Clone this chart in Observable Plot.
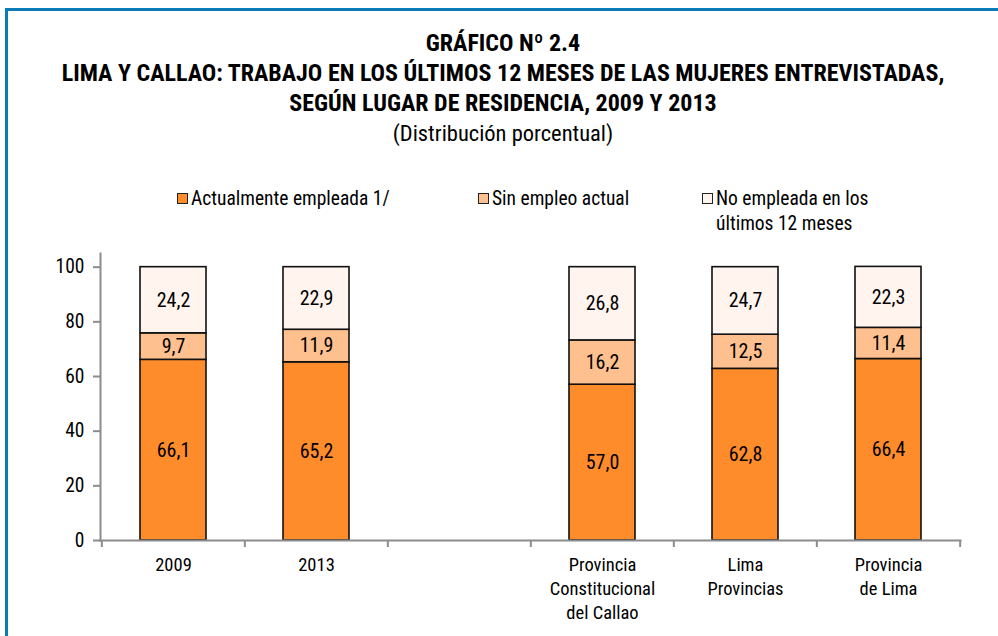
<!DOCTYPE html>
<html>
<head>
<meta charset="utf-8">
<script src="https://cdn.jsdelivr.net/npm/d3@7"></script>
<script src="https://cdn.jsdelivr.net/npm/@observablehq/plot@0.6"></script>
<style>
  html, body { margin: 0; padding: 0; background: #fff; }
  #wrap { position: relative; width: 998px; height: 636px; overflow: hidden;
          font-family: "Liberation Sans Narrow", "Arial Narrow", "Roboto Condensed", sans-serif; color: #000; }
  #frame { position: absolute; left: 5px; top: 8px; width: 1000px; height: 640px;
           border-top: 3px solid #0B7BB8; border-left: 3px solid #0B7BB8; }
  #title { position: absolute; left: 8px; width: 990px; top: 28px; text-align: center; }
  #title .b { font-weight: bold; font-size: 24px; line-height: 30px; }
  #title .s { font-size: 22.5px; line-height: 30px; }
  .leg { position: absolute; top: 186px; font-size: 19.5px; line-height: 25px; display: flex; align-items: flex-start; }
  .leg .sw { width: 9px; height: 9px; border: 1.5px solid #222; margin-top: 7px; margin-right: 3px; flex: none; }
  #chart { position: absolute; left: 0; top: 240px; }
</style>
</head>
<body>
<div id="wrap">
  <div id="frame"></div>
  <div id="title">
    <div class="b">GRÁFICO Nº 2.4</div>
    <div class="b">LIMA Y CALLAO: TRABAJO EN LOS ÚLTIMOS 12 MESES DE LAS MUJERES ENTREVISTADAS,</div>
    <div class="b">SEGÚN LUGAR DE RESIDENCIA, 2009 Y 2013</div>
    <div class="s">(Distribución porcentual)</div>
  </div>
  <div id="legend"></div>
  <div id="chart"></div>
</div>
<script>
// ---- data ----
const categories = ["2009", "2013", " ", "Provincia Constitucional del Callao", "Lima Provincias", "Provincia de Lima"];
const categoryLabels = ["2009", "2013", "", "Provincia\nConstitucional\ndel Callao", "Lima\nProvincias", "Provincia\nde Lima"];
const barCategories = ["2009", "2013", "Provincia Constitucional del Callao", "Lima Provincias", "Provincia de Lima"];
const series = ["Actualmente empleada 1/", "Sin empleo actual", "No empleada en los últimos 12 meses"];
const seriesLegend = ["Actualmente empleada 1/", "Sin empleo actual", "No empleada en los<br>últimos 12 meses"];
const empleada = [66.1, 65.2, 57.0, 62.8, 66.4];
const sinEmpleo = [9.7, 11.9, 16.2, 12.5, 11.4];
const noEmpleada = [24.2, 22.9, 26.8, 24.7, 22.3];
const colors = ["#FF8C2B", "#FFC08F", "#FFF4EE"];
const yTicks = [0, 20, 40, 60, 80, 100];

// ---- table ----
const values = [empleada, sinEmpleo, noEmpleada];
const data = [];
series.forEach((s, si) => barCategories.forEach((c, ci) => data.push({cat: c, series: s, value: values[si][ci]})));
const fmt = v => v.toFixed(1).replace(".", ",");
const labelOf = c => categoryLabels[categories.indexOf(c)];

// ---- legend ----
const legLeft = [177, 478, 702];
document.getElementById("legend").innerHTML = series.map((s, i) =>
  `<div class="leg" style="left:${legLeft[i]}px"><div class="sw" style="background:${colors[i]}"></div><div>${seriesLegend[i]}</div></div>`).join("");

// ---- chart ----
const W = 998, H = 396, mL = 100, mR = 38, mT = 13, mB = 96;
const step = (W - mL - mR) / categories.length;
const font = `"Liberation Sans Narrow", "Arial Narrow", "Roboto Condensed", sans-serif`;
const axisColor = "#8c8c8c";

const chart = Plot.plot({
  width: W, height: H,
  marginLeft: mL, marginRight: mR, marginTop: mT, marginBottom: mB,
  style: {fontFamily: font, fontSize: "18px", color: "#000", background: "transparent", overflow: "visible"},
  x: {domain: categories, paddingInner: 0.54, paddingOuter: 0.27, axis: null},
  y: {domain: [0, 105], axis: null},
  color: {domain: series, range: colors},
  marks: [
    Plot.barY(data, {x: "cat", y: "value", fill: "series", stroke: "#111", strokeWidth: 1.6}),
    Plot.text(data, Plot.stackY({x: "cat", y: "value", z: "series", text: d => fmt(d.value), fontSize: 20, fill: "#000"})),
    Plot.frame({anchor: "left", stroke: axisColor, strokeWidth: 2}),
    Plot.frame({anchor: "bottom", stroke: axisColor, strokeWidth: 2}),
    Plot.axisY({ticks: yTicks, tickSize: 7, tickPadding: 9, stroke: axisColor, strokeWidth: 2, fill: "#000", fontSize: 19.5, label: null, tickFormat: d => String(d)}),
    Plot.axisX({ticks: categories, tickSize: 0, tickPadding: 13, fontSize: 18.5, fontWeight: "normal", fill: "#000", lineHeight: 1.3, label: null, tickFormat: labelOf}),
    Plot.axisX({ticks: categories, tickSize: 7, text: null, stroke: axisColor, strokeWidth: 2, dx: -step / 2, label: null}),
    Plot.axisX({ticks: categories.slice(-1), tickSize: 7, text: null, stroke: axisColor, strokeWidth: 2, dx: step / 2, label: null})
  ]
});
document.getElementById("chart").appendChild(chart);
</script>
</body>
</html>
